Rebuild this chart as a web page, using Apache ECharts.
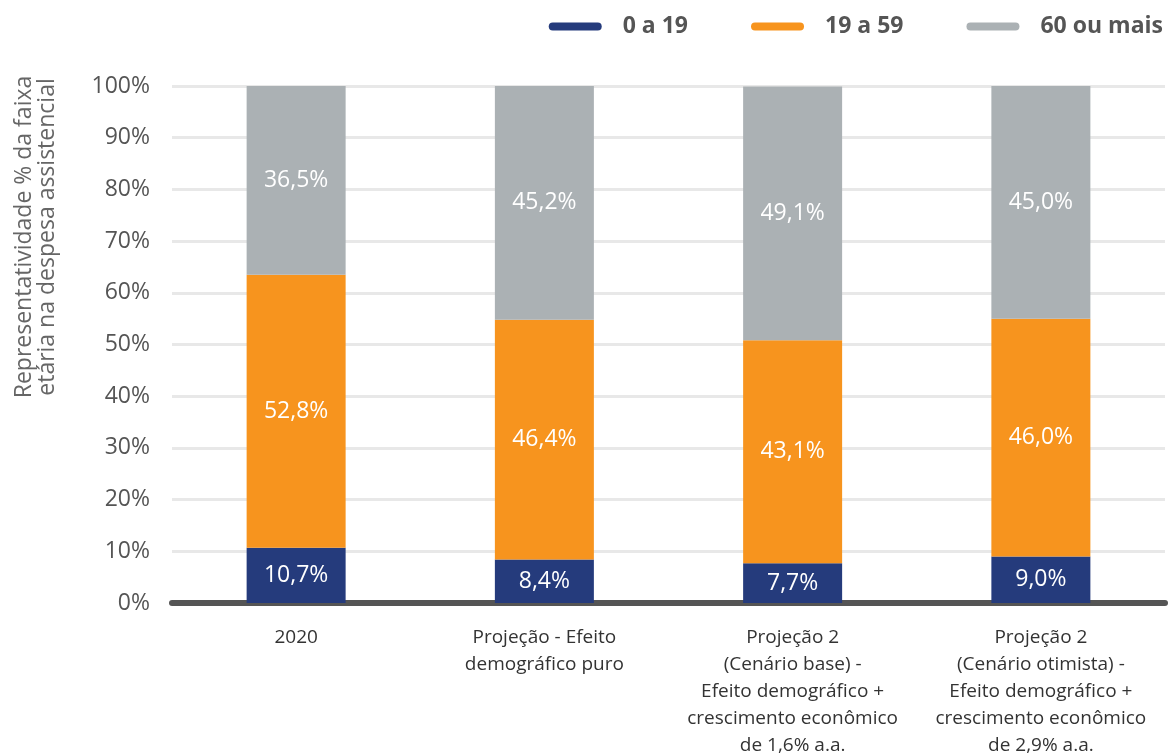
<!DOCTYPE html>
<html><head><meta charset="utf-8">
<script src="https://cdn.jsdelivr.net/npm/echarts@6/dist/echarts.min.js"></script>
<style>html,body{margin:0;padding:0;background:#fff}#c{width:1169px;height:754px}</style>
</head><body><div id="c"></div>
<script>
const categories = ['2020', 'Projeção - Efeito\ndemográfico puro', 'Projeção 2\n(Cenário base) -\nEfeito demográfico +\ncrescimento econômico\nde 1,6% a.a.', 'Projeção 2\n(Cenário otimista) -\nEfeito demográfico +\ncrescimento econômico\nde 2,9% a.a.'];
const age0to19 = [10.7, 8.4, 7.7, 9.0];
const age19to59 = [52.8, 46.4, 43.1, 46.0];
const age60plus = [36.5, 45.2, 49.1, 45.0];
const seriesNames = ['0 a 19', '19 a 59', '60 ou mais'];
const colors = ['#253b7c', '#f7941e', '#abb1b4'];
const yTicks = [0,10,20,30,40,50,60,70,80,90,100];

const fmt = v => v.toFixed(1).replace('.', ',') + '%';
const chart = echarts.init(document.getElementById('c'));
const mk = (name, data, i) => ({
  name, type: 'bar', stack: 'total', data, barWidth: 99,
  itemStyle: { color: colors[i] },
  label: { show: true, position: 'inside', color: '#fff', fontSize: 23, fontFamily: 'Open Sans',
    formatter: p => fmt(p.value) }
});
const capsule = 'path://M4,0 L49,0 A4,4 0 0 1 49,8 L4,8 A4,4 0 0 1 4,0 Z';
chart.setOption({
  animation: false,
  textStyle: { fontFamily: 'Open Sans' },
  legend: {
    data: seriesNames.map((n, i) => ({ name: n, icon: capsule, itemStyle: { color: colors[i] } })),
    right: 1, top: 10, itemWidth: 53, itemHeight: 8, itemGap: 63,
    textStyle: { fontSize: 23, fontWeight: 'bold', color: '#555', fontFamily: 'Open Sans', padding: [0, 0, 0, 16] }
  },
  grid: { left: 172, right: 4, top: 86, bottom: 151, outerBoundsMode: 'none', containLabel: false },
  xAxis: {
    type: 'category', data: categories,
    axisLine: { lineStyle: { color: '#555', width: 6, cap: 'round' } },
    axisTick: { show: false },
    axisLabel: { fontSize: 19, color: '#333', lineHeight: 27, margin: 21, interval: 0, fontFamily: 'Open Sans' }
  },
  yAxis: {
    type: 'value', min: 0, max: 100, interval: 10,
    axisLabel: { fontSize: 23, color: '#555', margin: 22, formatter: v => yTicks.includes(v) ? v + '%' : '', fontFamily: 'Open Sans' },
    splitLine: { lineStyle: { color: '#e8e8e8', width: 3 } },
    axisLine: { show: false }, axisTick: { show: false }
  },
  graphic: [{
    type: 'text', x: 36, y: 237, rotation: Math.PI / 2,
    style: { text: 'Representatividade % da faixa\netária na despesa assistencial', fontSize: 23, lineHeight: 23,
      fill: '#666', fontFamily: 'Open Sans', align: 'center', verticalAlign: 'middle' }
  }],
  series: [mk(seriesNames[0], age0to19, 0), mk(seriesNames[1], age19to59, 1), mk(seriesNames[2], age60plus, 2)]
});
</script></body></html>
